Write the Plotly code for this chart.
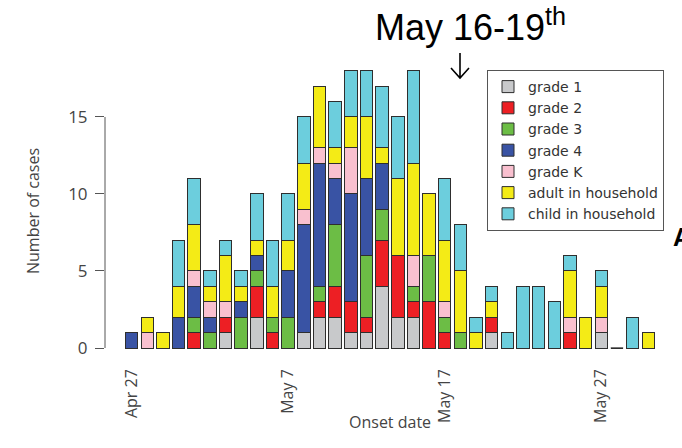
import pandas as pd
import plotly.graph_objects as go

# Onset dates (one bar per day)
dates = pd.date_range("2009-04-27", "2009-05-30", freq="D")

# Daily case counts by group
grade_1 = [0, 0, 0, 0, 0, 0, 1, 0, 2, 0, 0, 1, 2, 2, 1, 1, 4, 2, 2, 0, 0, 0, 0, 1, 0, 0, 0, 0, 0, 0, 1, 0, 0, 0]
grade_2 = [0, 0, 0, 0, 1, 0, 1, 0, 2, 1, 0, 0, 1, 2, 2, 1, 3, 4, 1, 3, 1, 0, 0, 1, 0, 0, 0, 0, 1, 0, 0, 0, 0, 0]
grade_3 = [0, 0, 0, 0, 1, 1, 0, 2, 1, 1, 2, 0, 1, 4, 0, 4, 2, 0, 1, 3, 1, 1, 0, 0, 0, 0, 0, 0, 0, 0, 0, 0, 0, 0]
grade_4 = [1, 0, 0, 2, 2, 1, 0, 1, 1, 0, 3, 7, 8, 3, 7, 5, 3, 0, 0, 0, 0, 0, 0, 0, 0, 0, 0, 0, 0, 0, 0, 0, 0, 0]
grade_k = [0, 1, 0, 0, 1, 1, 1, 0, 0, 0, 0, 1, 1, 1, 3, 0, 0, 0, 2, 0, 1, 0, 0, 0, 0, 0, 0, 0, 1, 0, 1, 0, 0, 0]
adult_hh = [0, 1, 1, 2, 3, 1, 3, 1, 1, 2, 2, 3, 4, 1, 2, 4, 1, 5, 6, 4, 4, 4, 1, 1, 0, 0, 0, 0, 3, 2, 2, 0, 0, 1]
child_hh = [0, 0, 0, 3, 3, 1, 1, 1, 3, 3, 3, 3, 0, 3, 3, 3, 4, 4, 6, 0, 4, 3, 1, 1, 1, 4, 4, 3, 1, 0, 1, 0, 2, 0]

series_names = ["grade 1", "grade 2", "grade 3", "grade 4", "grade K",
                "adult in household", "child in household"]
series_values = [grade_1, grade_2, grade_3, grade_4, grade_k, adult_hh, child_hh]
series_colors = ["#c8c9cb", "#ed1f24", "#6cbd45", "#3953a4", "#f9c0cf", "#f4eb16", "#6ccedd"]

tick_dates = ["2009-04-27", "2009-05-07", "2009-05-17", "2009-05-27"]
tick_labels = ["Apr 27", "May 7", "May 17", "May 27"]

# Plot-area geometry in pixels (used to place free-floating text)
W, H = 682, 448
L, R, T, B = 105, 22, 60, 98
PW, PH = W - L - R, H - T - B


def px(x):
    return (x - L) / PW


def py(y):
    return (H - B - y) / PH


fig = go.Figure()
for name, vals, col in zip(series_names, series_values, series_colors):
    fig.add_trace(go.Bar(
        x=dates, y=vals, name=name,
        marker=dict(color=col, line=dict(color="#2e2e2e", width=1)),
    ))

# Days with no cases are shown as a flat outline on the baseline
totals = [sum(v) for v in zip(*series_values)]
for d, t in zip(dates, totals):
    if t == 0:
        fig.add_trace(go.Scatter(
            x=[d - pd.Timedelta(hours=9.5), d + pd.Timedelta(hours=9.5)], y=[0, 0],
            mode="lines", line=dict(color="#2e2e2e", width=1.3),
            showlegend=False, hoverinfo="skip",
        ))

x_lo = dates[0] - pd.Timedelta(days=1.7)
x_hi = dates[-1] + pd.Timedelta(days=0.75)

# Downward arrow under the date-range callout (stem plus open head)
arrow_path = (f"M {px(460)},{py(53)} L {px(460)},{py(78)} "
              f"M {px(451)},{py(68)} L {px(460)},{py(78)} L {px(469)},{py(68)}")

fig.update_layout(
    width=W, height=H,
    margin=dict(l=L, r=R, t=T, b=B),
    barmode="stack", bargap=0.2,
    plot_bgcolor="white", paper_bgcolor="white",
    font=dict(family="Open Sans", color="#444"),
    showlegend=True,
    legend=dict(
        x=px(487), y=py(70), xanchor="left", yanchor="top",
        traceorder="normal", bordercolor="#555", borderwidth=1,
        bgcolor="white", font=dict(family="DejaVu Sans", size=14, color="#333"),
    ),
    xaxis=dict(
        type="date", range=[x_lo, x_hi],
        tickvals=tick_dates, ticktext=tick_labels, tickangle=-90,
        ticks="", ticklabelstandoff=15,
        showline=False, showgrid=False, zeroline=False,
        tickfont=dict(size=16, color="#444"),
    ),
    yaxis=dict(
        range=[-0.13, 18.7], tickvals=[0, 5, 10, 15],
        ticks="outside", ticklen=9, tickcolor="#555", tickwidth=1,
        ticklabelstandoff=4,
        showline=False, showgrid=False, zeroline=False,
        tickfont=dict(size=17, color="#444"),
    ),
    shapes=[
        dict(type="line", xref="paper", yref="y", x0=0, x1=0, y0=0, y1=15,
             line=dict(color="#555", width=1)),
        dict(type="path", xref="paper", yref="paper", path=arrow_path,
             line=dict(color="black", width=1.6)),
    ],
    annotations=[
        dict(text="Number of cases", textangle=-90, xref="paper", yref="paper",
             x=px(20), y=py(211), showarrow=False, font=dict(size=16, color="#444")),
        dict(text="Onset date", xref="paper", yref="paper",
             x=px(390), y=py(435), showarrow=False, font=dict(size=16, color="#444")),
        dict(text="May 16-19<sup>th</sup>", xref="paper", yref="paper",
             x=px(373), y=py(25), xanchor="left", yanchor="middle", showarrow=False,
             font=dict(family="Liberation Sans", size=36, color="black")),
        dict(text="<b>A</b>", xref="paper", yref="paper",
             x=px(671), y=py(237), xanchor="left", yanchor="middle", showarrow=False,
             font=dict(family="Liberation Sans", size=25, color="black")),
    ],
)

fig.write_html("out.html")
